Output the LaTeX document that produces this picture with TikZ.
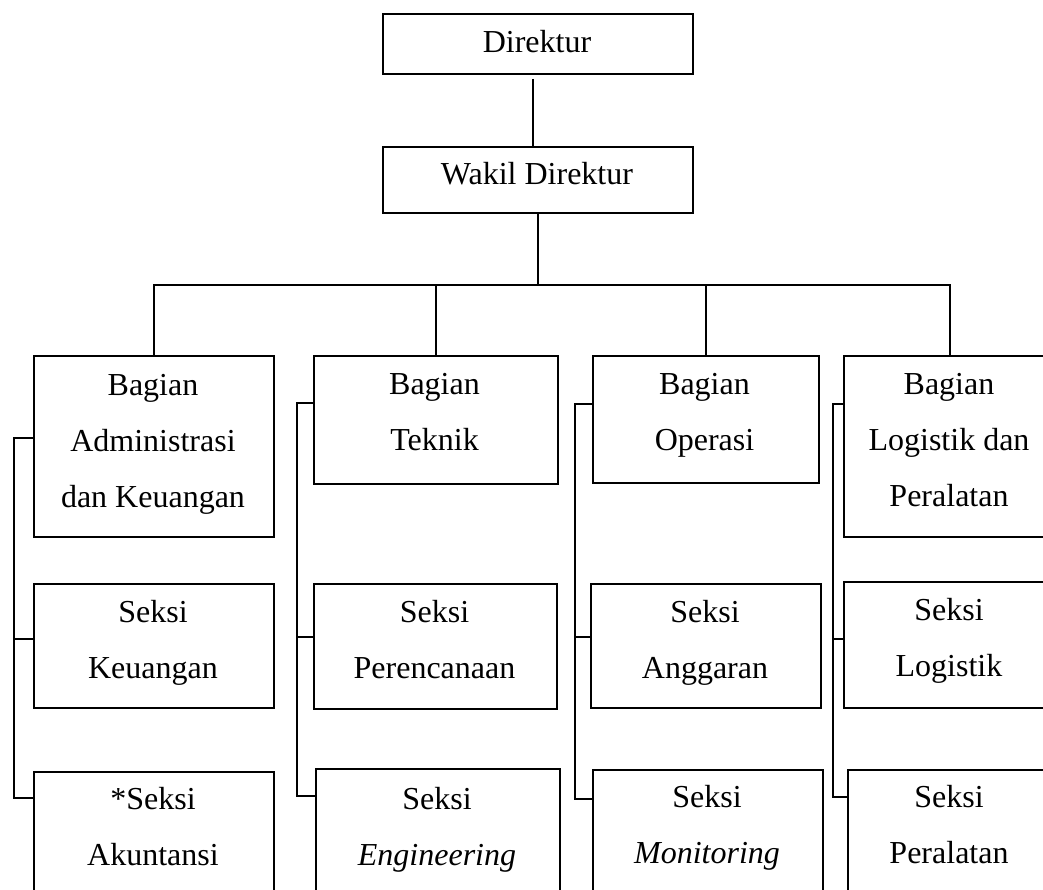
\documentclass[tikz,border=0pt]{standalone}
\usepackage{fontspec}
\setmainfont{Liberation Serif}
\begin{document}
\begin{tikzpicture}[x=1pt,y=-1pt,
  box/.style={draw,line width=2pt,rectangle,inner sep=0pt,anchor=north west},
  lbl/.style={anchor=base,align=center,inner sep=0pt,font={\fontsize{32}{56}\selectfont}},
  conn/.style={line width=2pt}]
\useasboundingbox (0,0) rectangle (1043,890);
\clip (0,0) rectangle (1043,890);
% boxes
\node[box,minimum width=310pt,minimum height=60pt] (dir) at (382,13) {};
\node[box,minimum width=310pt,minimum height=66pt] (wak) at (382,146) {};
\node[box,minimum width=240pt,minimum height=181pt] (adm) at (33,355) {};
\node[box,minimum width=244pt,minimum height=128pt] (tek) at (313,355) {};
\node[box,minimum width=226pt,minimum height=127pt] (ope) at (592,355) {};
\node[box,minimum width=212pt,minimum height=181pt] (log) at (843,355) {};
\node[box,minimum width=240pt,minimum height=124pt] (keu) at (33,583) {};
\node[box,minimum width=243pt,minimum height=125pt] (per) at (313,583) {};
\node[box,minimum width=230pt,minimum height=124pt] (ang) at (590,583) {};
\node[box,minimum width=212pt,minimum height=126pt] (slog) at (843,581) {};
\node[box,minimum width=240pt,minimum height=140pt] (aku) at (33,771) {};
\node[box,minimum width=244pt,minimum height=140pt] (eng) at (315,768) {};
\node[box,minimum width=230pt,minimum height=140pt] (mon) at (592,769) {};
\node[box,minimum width=208pt,minimum height=140pt] (sper) at (847,769) {};
% labels (anchor = baseline of the last line)
\node[lbl] (tdir) at (537,53) {Direktur};
\node[lbl] (twak) at (537,185) {Wakil Direktur};
\node[lbl] (tadm) at (153,507) {Bagian\\Administrasi\\dan Keuangan};
\node[lbl] (ttek) at (434.5,450) {Bagian\\Teknik};
\node[lbl] (tope) at (704.5,450) {Bagian\\Operasi};
\node[lbl] (tlog) at (949,506) {Bagian\\Logistik dan\\Peralatan};
\node[lbl] (tkeu) at (153,678) {Seksi\\Keuangan};
\node[lbl] (tper) at (434.5,678) {Seksi\\Perencanaan};
\node[lbl] (tang) at (705,678) {Seksi\\Anggaran};
\node[lbl] (tslog) at (949,676) {Seksi\\Logistik};
\node[lbl] (taku) at (153,865) {*Seksi\\Akuntansi};
\node[lbl] (teng) at (437,865) {Seksi\\\textit{Engineering}};
\node[lbl] (tmon) at (707,863) {Seksi\\\textit{Monitoring}};
\node[lbl] (tsper) at (949,863) {Seksi\\Peralatan};
% top connectors
\draw[conn] ([xshift=-5pt,yshift=-4pt]dir.south) -- ([xshift=-5pt]wak.north);
\coordinate (bar) at (0,285);
\draw[conn] (wak.south) -- (wak.south |- bar);
\draw[conn] (adm.north) -- (adm.north |- bar) -- (log.north |- bar) -- (log.north);
\draw[conn] (tek.north) -- (tek.north |- bar);
\draw[conn] (ope.north) -- (ope.north |- bar);
% brackets
\coordinate (c1a) at (14,438); \coordinate (c1b) at (14,639); \coordinate (c1c) at (14,798);
\draw[conn] (adm.west |- c1a) -- (c1a) -- (c1c) -- (aku.west |- c1c);
\draw[conn] (c1b) -- (keu.west |- c1b);
\coordinate (c2a) at (297,403); \coordinate (c2b) at (297,637); \coordinate (c2c) at (297,796);
\draw[conn] (tek.west |- c2a) -- (c2a) -- (c2c) -- (eng.west |- c2c);
\draw[conn] (c2b) -- (per.west |- c2b);
\coordinate (c3a) at (575,404); \coordinate (c3b) at (575,637); \coordinate (c3c) at (575,799);
\draw[conn] (ope.west |- c3a) -- (c3a) -- (c3c) -- (mon.west |- c3c);
\draw[conn] (c3b) -- (ang.west |- c3b);
\coordinate (c4a) at (833,404); \coordinate (c4b) at (833,639); \coordinate (c4c) at (833,797);
\draw[conn] (log.west |- c4a) -- (c4a) -- (c4c) -- (sper.west |- c4c);
\draw[conn] (c4b) -- (slog.west |- c4b);
\end{tikzpicture}
\end{document}
